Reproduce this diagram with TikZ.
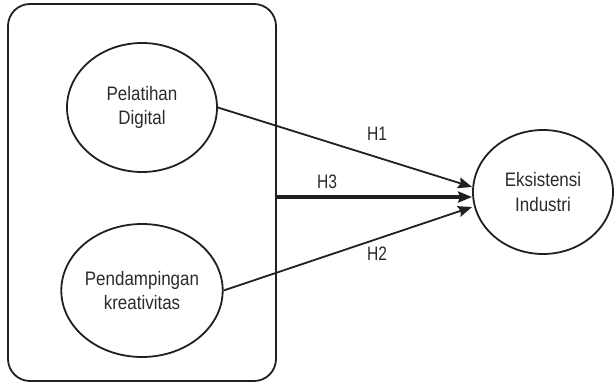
\documentclass[tikz,border=0pt]{standalone}
\usepackage{fontspec}
\setmainfont{Liberation Sans}
\newfontfamily\narrowfont{Liberation Sans}[FakeStretch=0.87]
\newfontfamily\lblfont{Liberation Sans}[FakeStretch=0.8]
\usetikzlibrary{shapes.geometric,arrows.meta,calc}
\definecolor{ln}{HTML}{231F20}
\definecolor{tx}{HTML}{2B2B2B}
\begin{document}
\begin{tikzpicture}[x=1pt,y=-1pt,
  ell/.style={draw=ln,line width=1.8pt,ellipse,inner sep=0pt,text=tx,align=center,font=\narrowfont\fontsize{19.5}{24.5}\selectfont},
  conn/.style={draw=ln,line width=1.8pt,-{Stealth[length=14pt,width=11pt,inset=2pt]}},
  lbl/.style={text=tx,font=\lblfont\fontsize{19.5}{22}\selectfont,inner sep=0pt}]
\useasboundingbox (0,0) rectangle (616,385);
\node[draw=ln,line width=1.8pt,rounded corners=22pt,minimum width=268pt,minimum height=377pt,inner sep=0pt] (box) at (142,192.5) {};
\node[ell,minimum width=150pt,minimum height=129pt] (pd) at (142,107.5) {Pelatihan\\Digital};
\node[ell,minimum width=150pt,minimum height=133pt] (pk) at (142,290.5) {Pendampingan\\kreativitas};
\node[ell,minimum width=140pt,minimum height=124pt] (eks) at (543,192) {Eksistensi\\Industri};
\coordinate (t3) at ($(eks.west)+(0,5)$);
\draw[conn] (pd.east) -- ($(eks.west)+(0,-5)$);
\draw[conn] (pk.east) -- ($(eks.west)+(0,15)$);
\draw[conn,line width=3.2pt] (box.east |- t3) -- (t3);
\node[lbl] (h1) at (377,134) {H1};
\node[lbl] (h3) at (327,182) {H3};
\node[lbl] (h2) at (377,254) {H2};
\end{tikzpicture}
\end{document}
